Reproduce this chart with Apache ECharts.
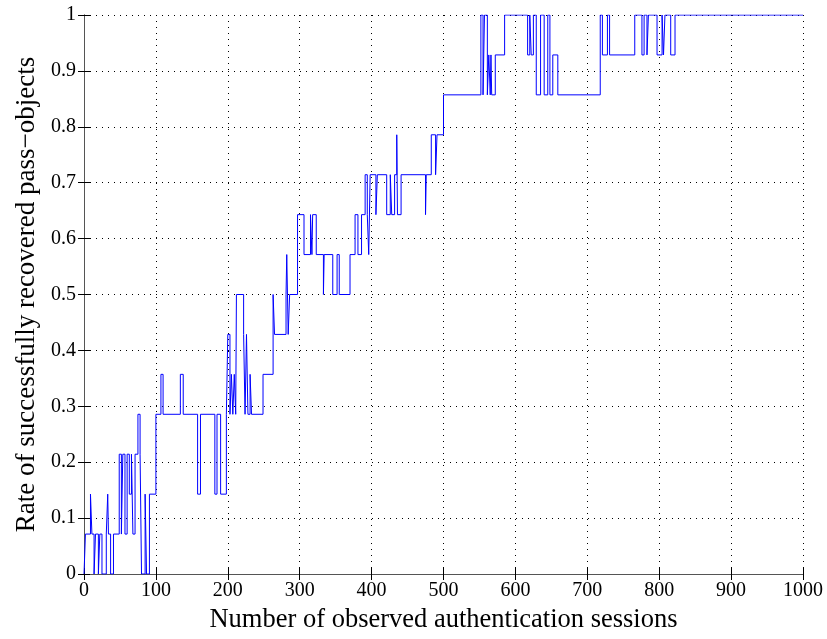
<!DOCTYPE html>
<html>
<head>
<meta charset="utf-8">
<script src="https://cdn.jsdelivr.net/npm/echarts@6/dist/echarts.min.js"></script>
<style>
  html, body { margin: 0; padding: 0; background: #fff; }
  #main { width: 827px; height: 639px; }
</style>
</head>
<body>
<div id="main"></div>
<script>
// sessions where the count changes, and recovered pass-objects (out of 14) from there on
var sessions = [0, 2, 9, 11, 14, 16, 20, 22, 25, 31, 33, 34, 37, 41, 49, 52, 54, 57, 60, 63,
  66, 68, 71, 75, 78, 80, 85, 87, 91, 100, 107, 110, 134, 138, 158, 162, 182, 185, 190, 198,
  200, 203, 205, 207, 209, 211, 212, 222, 224, 226, 228, 231, 233, 249, 263, 265, 281, 282, 284, 286,
  297, 306, 315, 317, 318, 323, 333, 334, 346, 352, 355, 370, 377, 381, 386, 391, 394, 396, 398, 406,
  408, 421, 426, 428, 432, 435, 436, 441, 475, 476, 483, 489, 491, 500, 552, 555, 557, 561, 563, 565,
  566, 567, 572, 585, 617, 620, 622, 625, 629, 635, 640, 645, 648, 652, 659, 718, 721, 728, 731, 766,
  776, 779, 783, 785, 797, 804, 806, 808, 816, 822, 1000];
var recovered = [0, 1, 2, 1, 0, 1, 0, 1, 0, 1, 2, 1, 0, 1, 3, 1, 3, 1, 3, 2,
  3, 1, 3, 4, 3, 0, 2, 0, 2, 4, 5, 4, 5, 4, 2, 4, 2, 4, 2, 4,
  6, 4, 5, 4, 5, 4, 7, 6, 4, 6, 4, 5, 4, 5, 7, 6, 7, 8, 6, 7,
  9, 8, 9, 8, 9, 8, 7, 8, 7, 8, 7, 8, 9, 8, 9, 10, 9, 8, 10, 9,
  10, 9, 10, 9, 10, 11, 9, 10, 9, 10, 11, 10, 11, 12, 14, 12, 14, 12, 13, 12,
  13, 12, 13, 14, 13, 14, 13, 14, 12, 14, 12, 14, 12, 13, 12, 14, 13, 14, 13, 14,
  13, 14, 13, 14, 13, 14, 13, 14, 13, 14, 14];
var totalObjects = 14;
var xTicks = [0, 100, 200, 300, 400, 500, 600, 700, 800, 900, 1000];
var yTicks = [0, 0.1, 0.2, 0.3, 0.4, 0.5, 0.6, 0.7, 0.8, 0.9, 1];

var seriesData = sessions.map(function (s, i) {
  return [s, recovered[i] / totalObjects];
});

var chart = echarts.init(document.getElementById('main'), null, { renderer: 'canvas' });
var font = 'Liberation Serif';
var gridLine = { show: true, lineStyle: { color: '#000', width: 1, type: [1, 5] } };

var option = {
  animation: false,
  backgroundColor: '#fff',
  grid: { left: 84, right: 24, top: 15, bottom: 58, containLabel: false },
  xAxis: [{
    type: 'value',
    min: xTicks[0], max: xTicks[xTicks.length - 1], interval: 100,
    name: 'Number of observed authentication sessions',
    nameLocation: 'middle', nameGap: 33,
    nameTextStyle: { fontFamily: font, fontSize: 26.5, color: '#000' },
    axisLine: { show: true, lineStyle: { color: '#555', width: 1 } },
    axisTick: { show: true, inside: true, length: 6, lineStyle: { color: '#000' } },
    axisLabel: { fontFamily: font, fontSize: 20, color: '#000', margin: 7,
      formatter: function (v) { return String(v); } },
    splitLine: gridLine
  }, {
    type: 'value', position: 'top',
    min: xTicks[0], max: xTicks[xTicks.length - 1], interval: 100,
    axisLine: { show: true, lineStyle: { color: '#555', width: 1 } },
    axisTick: { show: true, inside: true, length: 6, lineStyle: { color: '#000' } },
    axisLabel: { show: false },
    splitLine: { show: false }
  }],
  yAxis: [{
    type: 'value',
    min: yTicks[0], max: yTicks[yTicks.length - 1], interval: 0.1,
    name: 'Rate of successfully recovered pass\u2212objects',
    nameLocation: 'middle', nameGap: 42,
    nameTextStyle: { fontFamily: font, fontSize: 27, color: '#000' },
    axisLine: { show: true, lineStyle: { color: '#555', width: 1 } },
    axisTick: { show: true, inside: true, length: 6, lineStyle: { color: '#000' } },
    axisLabel: { fontFamily: font, fontSize: 20, color: '#000', margin: 8 },
    splitLine: gridLine
  }, {
    type: 'value', position: 'right',
    min: yTicks[0], max: yTicks[yTicks.length - 1], interval: 0.1,
    axisLine: { show: true, lineStyle: { color: '#555', width: 1 } },
    axisTick: { show: true, inside: true, length: 6, lineStyle: { color: '#000' } },
    axisLabel: { show: false },
    splitLine: { show: false }
  }],
  series: [{
    type: 'line',
    step: 'end',
    data: seriesData,
    showSymbol: false,
    lineStyle: { color: '#0000ff', width: 1 },
    z: 5
  }]
};
chart.setOption(option);
</script>
</body>
</html>
